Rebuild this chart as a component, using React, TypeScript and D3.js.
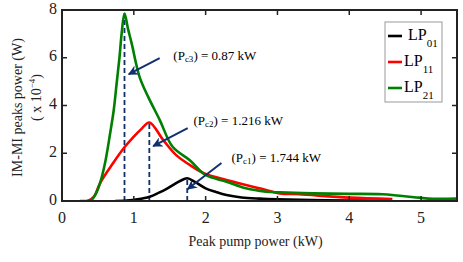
import React from 'react';
import * as d3 from 'd3';

// LP01 curve
const lp01X = [0.74, 0.9, 1.05, 1.22, 1.35, 1.45, 1.55, 1.65, 1.744, 1.85, 2.0, 2.15, 2.29, 2.5, 2.75, 3.0, 3.5, 4.0, 4.46];
const lp01Y = [0, 0.02, 0.07, 0.18, 0.35, 0.5, 0.68, 0.85, 0.95, 0.8, 0.53, 0.37, 0.25, 0.15, 0.1, 0.07, 0.04, 0.02, 0.01];

// LP11 curve
const lp11X = [0.36, 0.45, 0.53, 0.71, 0.875, 1.0, 1.1, 1.216, 1.41, 1.59, 1.82, 2.0, 2.29, 2.75, 3.03, 3.3, 4.0, 4.6];
const lp11Y = [0, 0.2, 0.75, 1.58, 2.27, 2.7, 3.0, 3.29, 2.55, 1.92, 1.43, 1.13, 0.88, 0.53, 0.32, 0.28, 0.14, 0.08];

// LP21 curve
const lp21X = [0.25, 0.41, 0.47, 0.53, 0.6, 0.67, 0.72, 0.76, 0.8, 0.83, 0.87, 0.92, 0.97, 1.08, 1.2, 1.36, 1.54, 1.78, 2.0, 2.29, 2.56, 2.84, 3.03, 3.5, 4.0, 4.46, 4.97, 5.1, 5.5];
const lp21Y = [0, 0.05, 0.3, 0.75, 1.6, 2.83, 3.8, 4.9, 6.0, 7.0, 7.85, 7.2, 6.6, 5.2, 4.36, 3.4, 2.27, 1.71, 1.09, 0.81, 0.53, 0.39, 0.36, 0.32, 0.3, 0.28, 0.14, 0.1, 0.1];

const seriesNames = ['01', '11', '21'];
const seriesColors = ['#000000', '#ff0000', '#008000'];

// critical points
const critX = [0.87, 1.216, 1.744];
const critY = [7.85, 3.29, 0.95];
const critNames = ['c3', 'c2', 'c1'];
const critLabels = [') = 0.87 kW', ') = 1.216 kW', ') = 1.744 kW'];
const arrowFrom = [[1.36, 5.98], [1.75, 3.05], [2.22, 1.59]];
const arrowTo = [[0.93, 5.31], [1.27, 2.3], [1.75, 0.5]];
const labelPos = [[1.55, 6.05], [1.83, 3.3], [2.36, 1.76]];

const xTicks = [0, 1, 2, 3, 4, 5];
const yTicks = [0, 2, 4, 6, 8];

const W = 463;
const H = 262;
const m = { left: 62, right: 6, top: 10, bottom: 61 };

const App = () => {
  const x = d3.scaleLinear().domain([0, 5.5]).range([m.left, W - m.right]);
  const y = d3.scaleLinear().domain([0, 8]).range([H - m.bottom, m.top]);
  const line = d3.line<[number, number]>()
    .x(d => x(d[0]))
    .y(d => y(d[1]))
    .curve(d3.curveCatmullRom.alpha(0.5));

  const series = [
    lp01X.map((v, i) => [v, lp01Y[i]] as [number, number]),
    lp11X.map((v, i) => [v, lp11Y[i]] as [number, number]),
    lp21X.map((v, i) => [v, lp21Y[i]] as [number, number]),
  ];

  const font = "'Liberation Serif', 'Times New Roman', serif";
  const navy = '#10306e';
  const x0 = x(0), x1 = x(5.5), y0 = y(0), y1 = y(8);

  return (
    <div style={{ position: 'absolute', left: 0, top: 0 }}>
      <svg width={W} height={H} style={{ display: 'block', background: '#fff', fontFamily: font }}>
        <defs>
          <marker id="arr" viewBox="0 0 10 10" refX="9" refY="5" markerWidth="5" markerHeight="5" orient="auto">
            <path d="M0,0 L10,5 L0,10 L3,5 z" fill={navy} />
          </marker>
        </defs>
        <clipPath id="plot">
          <rect x={x0} y={y1} width={x1 - x0} height={y0 - y1} />
        </clipPath>

        {/* dashed critical lines */}
        {critX.map((cx, i) => (
          <line key={'c' + i} x1={x(cx)} x2={x(cx)} y1={y(0)} y2={y(critY[i])}
            stroke={navy} strokeWidth={1.8} strokeDasharray="5,3" />
        ))}

        {/* curves */}
        <g clipPath="url(#plot)">
          {series.map((s, i) => (
            <path key={i} d={line(s) || ''} fill="none" stroke={seriesColors[i]} strokeWidth={2.6} strokeLinejoin="round" />
          ))}
        </g>

        {/* arrows */}
        {arrowFrom.map((a, i) => (
          <line key={'a' + i} x1={x(a[0])} y1={y(a[1])} x2={x(arrowTo[i][0])} y2={y(arrowTo[i][1])}
            stroke={navy} strokeWidth={2} markerEnd="url(#arr)" />
        ))}
        {labelPos.map((p, i) => (
          <text key={'l' + i} x={x(p[0])} y={y(p[1])} fontSize={13} dominantBaseline="middle" fill="#000">
            (P<tspan fontSize={9} dy={3}>{critNames[i]}</tspan><tspan dy={-3}>{critLabels[i]}</tspan>
          </text>
        ))}

        {/* frame */}
        <rect x={x0} y={y1} width={x1 - x0} height={y0 - y1} fill="none" stroke="#222" strokeWidth={2} />

        {/* ticks */}
        {xTicks.filter(t => t > 0).map(t => (
          <g key={'xt' + t}>
            <line x1={x(t)} x2={x(t)} y1={y0} y2={y0 - 5} stroke="#222" strokeWidth={1.5} />
            <line x1={x(t)} x2={x(t)} y1={y1} y2={y1 + 5} stroke="#222" strokeWidth={1.5} />
          </g>
        ))}
        {yTicks.filter(t => t > 0 && t < 8).map(t => (
          <g key={'yt' + t}>
            <line x1={x0} x2={x0 + 5} y1={y(t)} y2={y(t)} stroke="#222" strokeWidth={1.5} />
            <line x1={x1} x2={x1 - 5} y1={y(t)} y2={y(t)} stroke="#222" strokeWidth={1.5} />
          </g>
        ))}
        {xTicks.map(t => (
          <text key={'xl' + t} x={x(t)} y={y0 + 18} fontSize={16} textAnchor="middle" dominantBaseline="middle" fill="#222">{t}</text>
        ))}
        {yTicks.map(t => (
          <text key={'yl' + t} x={x0 - 5} y={y(t)} fontSize={16} textAnchor="end" dominantBaseline="middle" fill="#222">{t}</text>
        ))}

        {/* axis titles */}
        <text x={(x0 + x1) / 2 - 4} y={243} fontSize={14} textAnchor="middle" dominantBaseline="middle" fill="#222">Peak pump power (kW)</text>
        <text transform={`translate(19,${(y0 + y1) / 2 + 2}) rotate(-90)`} fontSize={14} textAnchor="middle" dominantBaseline="middle" fill="#222">IM-MI peaks power (W)</text>
        <text transform={`translate(38,${(y0 + y1) / 2 - 8}) rotate(-90)`} fontSize={14} textAnchor="middle" dominantBaseline="middle" fill="#222">
          ( x 10<tspan fontSize={9} dy={-5}>−4</tspan><tspan dy={5}>)</tspan>
        </text>

        {/* legend */}
        <g transform="translate(385,22)">
          <rect x={0} y={0} width={57} height={80} fill="#fff" stroke="#999" strokeWidth={1} />
          {seriesNames.map((n, i) => (
            <g key={'lg' + i} transform={`translate(0,${14 + i * 26})`}>
              <line x1={3} x2={17} y1={0} y2={0} stroke={seriesColors[i]} strokeWidth={2.6} />
              <text x={i === 0 ? 23 : 19} y={0} fontSize={16} dominantBaseline="middle" fill="#000">
                LP<tspan fontSize={11} dy={8}>{n}</tspan>
              </text>
            </g>
          ))}
        </g>
      </svg>
    </div>
  );
};

export default App;
